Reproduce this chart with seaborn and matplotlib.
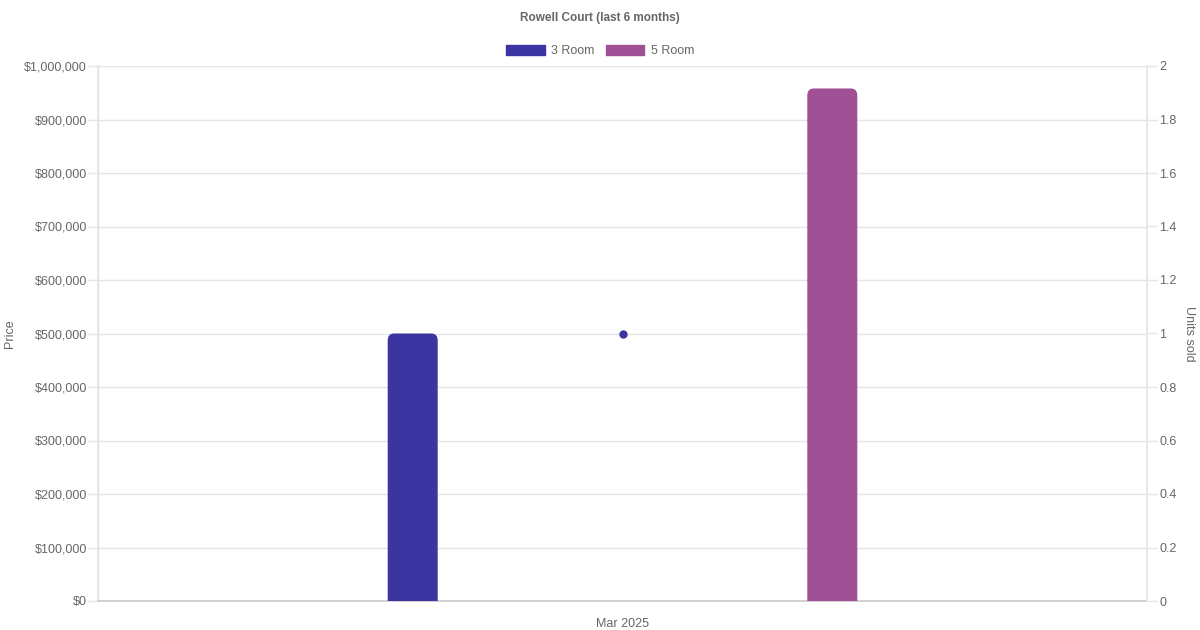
import numpy as np
import matplotlib
matplotlib.use("Agg")
import matplotlib.pyplot as plt
import seaborn as sns
from matplotlib.patches import FancyBboxPatch
from matplotlib.ticker import FuncFormatter, MultipleLocator

# data
months      = ["Mar 2025"]
room_types  = ["3 Room", "5 Room"]
prices      = [500000, 958000]
units_sold  = [1]
colors      = ["#3a35a0", "#a05095"]
bar_offsets = [-0.2, 0.2]

sns.set_theme(style="white")
plt.rcParams["font.family"] = ["Liberation Sans", "DejaVu Sans"]

text_col = "#666666"
grid_col = "#e5e5e5"
fs = 9

fig = plt.figure(figsize=(12, 6.3), dpi=100)
ax = fig.add_axes([98 / 1200, 29 / 630, 1049 / 1200, 535 / 630])
ax2 = ax.twinx()

x0 = np.arange(len(months))
bar_w = 50 / 1049
for i, (name, price, col) in enumerate(zip(room_types, prices, colors)):
    xc = x0 + bar_offsets[i]
    for x, h in zip(xc, [price]):
        # rounded top corners; bottom pushed below 0 so it is clipped square
        r = FancyBboxPatch((x - bar_w / 2, -30000), bar_w, h + 30000,
                           boxstyle="round,pad=0,rounding_size=0.006",
                           mutation_aspect=2.2e6, fc=col, ec="none", lw=0, zorder=3)
        ax.add_patch(r)

ax2.scatter(x0, units_sold, s=36, color=colors[0], linewidths=0, zorder=4)

ax.set_xlim(-0.5, len(months) - 0.5)
ax.set_ylim(0, 1000000)
ax2.set_ylim(0, 2)
ax.yaxis.set_major_locator(MultipleLocator(100000))
ax2.yaxis.set_major_locator(MultipleLocator(0.2))
ax.yaxis.set_major_formatter(FuncFormatter(lambda v, p: f"${v:,.0f}"))
ax2.yaxis.set_major_formatter(FuncFormatter(lambda v, p: f"{v:g}"))

ax.set_xticks(x0)
ax.set_xticklabels(months)
ax.set_xticks([-0.5, 0.5], minor=True)
ax.grid(True, axis="y", color=grid_col, lw=1, zorder=0)
ax.grid(True, axis="x", which="minor", color=grid_col, lw=1, zorder=0)

for a in (ax, ax2):
    for s in a.spines.values():
        s.set_visible(False)
    a.tick_params(colors=grid_col, labelcolor=text_col, labelsize=fs,
                  length=7, width=1, pad=2)
ax.tick_params(axis="x", which="both", length=0, pad=12)
ax.tick_params(axis="y", pad=1)
ax.spines["bottom"].set_visible(True)
ax.spines["bottom"].set_color("#cccccc")
ax.spines["left"].set_visible(True)
ax.spines["left"].set_color(grid_col)
ax2.spines["right"].set_visible(True)
ax2.spines["right"].set_color(grid_col)

ax.set_ylabel("Price", color=text_col, fontsize=fs)
ax.yaxis.set_label_coords((16 - 98) / 1049, 0.5)
ax2.set_ylabel("Units sold", color=text_col, fontsize=fs, rotation=270, va="center")
ax2.yaxis.set_label_coords((1189 - 98) / 1049, 0.5)

fig.text(0.5, 1 - 18 / 630, "Rowell Court (last 6 months)", ha="center", va="center",
         color=text_col, fontsize=8.5, fontweight="bold")

handles = [plt.Rectangle((0, 0), 1, 1, fc=c, ec=c) for c in colors]
fig.legend(handles, room_types, loc="center", bbox_to_anchor=(0.5, 1 - 51 / 630),
           ncol=2, frameon=False, fontsize=fs, labelcolor=text_col,
           handlelength=3.1, handleheight=0.95, handletextpad=0.5, columnspacing=0.9)

fig.savefig("out.png", dpi=100)
